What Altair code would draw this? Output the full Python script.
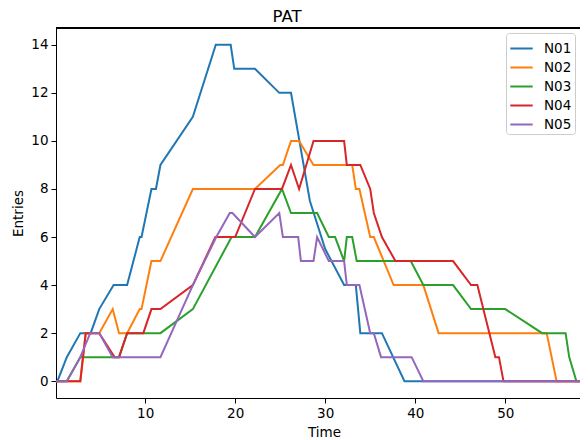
import altair as alt
import pandas as pd

series = ["N01", "N02", "N03", "N04", "N05"]
colors = ["#1f77b4", "#ff7f0e", "#2ca02c", "#d62728", "#9467bd"]

t_n01 = [0.1, 0.26, 1.3, 2.8, 3.95, 4.9, 6.5, 8.0, 9.4, 9.6, 10.7, 11.2, 11.7, 15.3, 17.85, 19.5, 19.9, 22.2, 24.9, 26.2, 28.3, 30.0, 32.1, 33.4, 33.9, 36.3, 38.8, 60]
y_n01 = [0, 0, 1, 2, 2, 3, 4, 4, 6, 6, 8, 8, 9, 11, 14, 14, 13, 13, 12, 12, 7.5, 5.5, 4, 4, 2, 2, 0, 0]

t_n02 = [0.1, 2.8, 3.4, 4.9, 6.4, 7.1, 8.0, 9.4, 9.6, 10.7, 11.7, 15.3, 22.2, 25.0, 25.3, 26.2, 27.1, 28.7, 33.0, 33.4, 33.8, 35.0, 35.4, 37.6, 40.9, 42.6, 54.6, 55.7, 60]
y_n02 = [0, 0, 2, 2, 3, 2, 2, 3, 3, 5, 5, 8, 8, 9, 9, 10, 10, 9, 9, 8, 8, 6, 6, 4, 4, 2, 2, 0, 0]

t_n03 = [0.1, 1.3, 2.8, 7.1, 8.0, 11.7, 15.3, 19.6, 22.2, 25.2, 26.2, 29.1, 30.4, 31.1, 32.1, 32.4, 33.0, 33.5, 39.5, 40.9, 44.2, 46.2, 50.0, 54.1, 56.7, 57.1, 57.9, 60]
y_n03 = [0, 0, 1, 1, 2, 2, 3, 6, 6, 8, 7, 7, 6, 6, 5, 6, 6, 5, 5, 4, 4, 3, 3, 2, 2, 1, 0, 0]

t_n04 = [0.1, 2.8, 3.4, 4.9, 6.6, 7.1, 8.0, 9.8, 10.7, 11.7, 15.3, 17.8, 20.0, 22.2, 25.2, 26.2, 27.1, 28.7, 32.1, 32.4, 33.9, 35.0, 35.4, 36.3, 37.8, 44.2, 46.2, 46.9, 48.9, 49.3, 49.8, 60]
y_n04 = [0, 0, 2, 2, 1, 1, 2, 2, 3, 3, 4, 6, 6, 8, 8, 9, 8, 10, 10, 9, 9, 8, 7, 6, 5, 5, 4, 4, 1, 1, 0, 0]

t_n05 = [0.1, 1.3, 2.8, 3.9, 4.9, 6.4, 11.7, 15.3, 17.9, 19.4, 19.7, 22.2, 24.9, 25.3, 27.0, 27.3, 28.7, 29.1, 30.4, 32.1, 32.4, 33.8, 35.0, 35.4, 36.2, 39.6, 40.9, 60]
y_n05 = [0, 0, 1, 2, 2, 1, 1, 4, 6, 7, 7, 6, 7, 6, 6, 5, 5, 6, 5, 5, 4, 4, 2, 2, 1, 1, 0, 0]

x_ticks = [10, 20, 30, 40, 50]
y_ticks = [0, 2, 4, 6, 8, 10, 12, 14]

rows = []
for name, ts, ys in zip(series, [t_n01, t_n02, t_n03, t_n04, t_n05],
                        [y_n01, y_n02, y_n03, y_n04, y_n05]):
    for i, (t, y) in enumerate(zip(ts, ys)):
        rows.append({"series": name, "Time": t, "Entries": y, "idx": i})
df = pd.DataFrame(rows)

font = "DejaVu Sans"

lines = alt.Chart(df).mark_line(strokeWidth=2, clip=True).encode(
    x=alt.X("Time:Q",
            scale=alt.Scale(domain=[0.1, 58.3], nice=False, zero=False),
            axis=alt.Axis(values=x_ticks, title="Time", titlePadding=6, titleX=268)),
    y=alt.Y("Entries:Q",
            scale=alt.Scale(domain=[-0.7, 14.7], nice=False, zero=False),
            axis=alt.Axis(values=y_ticks, title="Entries", titlePadding=5)),
    color=alt.Color("series:N",
                    scale=alt.Scale(domain=series, range=colors),
                    legend=alt.Legend(title=None, orient="none", legendX=450, legendY=5,
                                      symbolType="stroke", symbolStrokeWidth=2,
                                      symbolSize=500, rowPadding=-2.4,
                                      labelFontSize=13.5, labelFont=font, labelColor="black",
                                      labelOffset=10, padding=3,
                                      strokeColor="#cccccc", cornerRadius=3,
                                      fillColor="white")),
    order="idx:Q",
)

top_rule = alt.Chart(df).mark_rule(color="black", strokeWidth=1).encode(
    x=alt.value(0), x2=alt.value(524), y=alt.value(0)
)

chart = alt.layer(lines, top_rule).properties(
    width=524,
    height=370,
    title=alt.TitleParams("PAT", fontSize=16.5, fontWeight="normal", font=font,
                          anchor="middle", dx=-31, offset=2, color="black"),
    autosize=alt.AutoSizeParams(type="none"),
    padding={"left": 48, "top": 20, "right": 0, "bottom": 42},
).configure_view(stroke=None).configure_axis(
    grid=False,
    domainColor="black",
    tickColor="black",
    tickSize=5,
    labelFontSize=13.5,
    labelFont=font,
    labelColor="black",
    titleFontSize=13.5,
    titleFont=font,
    titleFontWeight="normal",
    titleColor="black",
    labelPadding=3,
)

chart.save("out.html", embed_options={"renderer": "svg", "actions": False})
